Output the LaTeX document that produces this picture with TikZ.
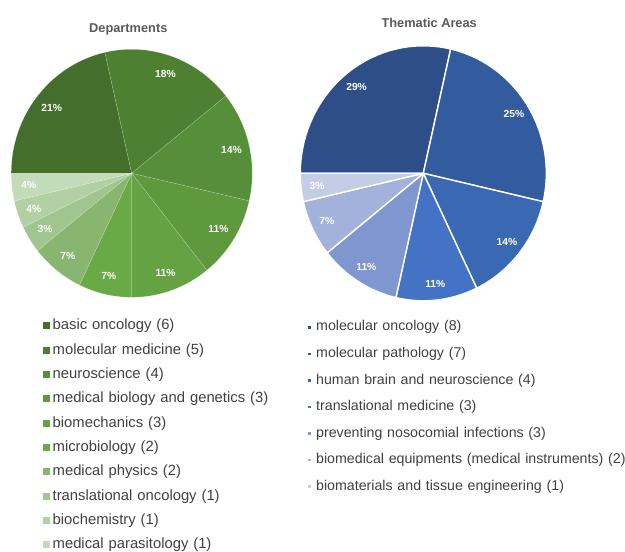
\documentclass[tikz,border=0pt]{standalone}
\usepackage{fontspec}
\setmainfont{Liberation Sans}
\usepackage{xcolor}
\usetikzlibrary{positioning}

\definecolor{depA}{HTML}{436E2B}
\definecolor{depB}{HTML}{4E8032}
\definecolor{depC}{HTML}{578E39}
\definecolor{depD}{HTML}{5E993E}
\definecolor{depE}{HTML}{64A243}
\definecolor{depF}{HTML}{6AAA46}
\definecolor{depG}{HTML}{88B56F}
\definecolor{depH}{HTML}{A1C58F}
\definecolor{depI}{HTML}{B3D0A4}
\definecolor{depJ}{HTML}{C4DBB9}
\definecolor{thmA}{HTML}{2E4E88}
\definecolor{thmB}{HTML}{335C9E}
\definecolor{thmC}{HTML}{3B68B3}
\definecolor{thmD}{HTML}{4472C4}
\definecolor{thmE}{HTML}{7F96CF}
\definecolor{thmF}{HTML}{A3B2DA}
\definecolor{thmG}{HTML}{C3CDE6}
\definecolor{titlegray}{HTML}{5A5A5A}
\definecolor{leggray}{HTML}{404040}

\begin{document}
\begin{tikzpicture}[x=1pt, y=1pt,
    dslice/.style={draw=white, draw opacity=0.3, line width=0.4pt},
    tslice/.style={draw=white, line width=1.4pt, line join=round},
    pct/.style={text=white, inner sep=0pt, font=\bfseries\fontsize{10.3}{12}\selectfont},
    charttitle/.style={text=titlegray, inner sep=0pt, anchor=base, font=\bfseries\fontsize{12.8}{15}\selectfont},
    dleg/.style={text width=240pt, align=left, inner sep=0pt, text=leggray, node distance=24.33pt, font=\fontsize{14.8}{17}\selectfont},
    tleg/.style={text width=340pt, align=left, inner sep=0pt, text=leggray, node distance=26.57pt, font=\fontsize{14.2}{17}\selectfont},
    dkey/.style={rectangle, minimum size=7pt, inner sep=0pt},
    tkey/.style={rectangle, minimum size=2.6pt, inner sep=0pt}]

    \useasboundingbox (0,0) rectangle (625,552);

    \node [charttitle] (deptitle) at (128.3,519.7) {Departments};
    \node [charttitle] (thmtitle) at (429.2,524.7) {Thematic Areas};

    \begin{scope}[shift={(131.7,378.7)}, xscale=120.5, yscale=124]
        \filldraw [dslice, fill=depA] (0,0) -- (180:1) arc[start angle=180, end angle=102.857, radius=1] -- cycle;
        \filldraw [dslice, fill=depB] (0,0) -- (102.857:1) arc[start angle=102.857, end angle=38.571, radius=1] -- cycle;
        \filldraw [dslice, fill=depC] (0,0) -- (38.571:1) arc[start angle=38.571, end angle=-12.857, radius=1] -- cycle;
        \filldraw [dslice, fill=depD] (0,0) -- (-12.857:1) arc[start angle=-12.857, end angle=-51.429, radius=1] -- cycle;
        \filldraw [dslice, fill=depE] (0,0) -- (-51.429:1) arc[start angle=-51.429, end angle=-90, radius=1] -- cycle;
        \filldraw [dslice, fill=depF] (0,0) -- (-90:1) arc[start angle=-90, end angle=-115.714, radius=1] -- cycle;
        \filldraw [dslice, fill=depG] (0,0) -- (-115.714:1) arc[start angle=-115.714, end angle=-141.429, radius=1] -- cycle;
        \filldraw [dslice, fill=depH] (0,0) -- (-141.429:1) arc[start angle=-141.429, end angle=-154.286, radius=1] -- cycle;
        \filldraw [dslice, fill=depI] (0,0) -- (-154.286:1) arc[start angle=-154.286, end angle=-167.143, radius=1] -- cycle;
        \filldraw [dslice, fill=depJ] (0,0) -- (-167.143:1) arc[start angle=-167.143, end angle=-180, radius=1] -- cycle;

        \node [pct] (dpA) at (141.43:0.85) {21\%};
        \node [pct] (dpB) at (70.71:0.85) {18\%};
        \node [pct] (dpC) at (12.86:0.85) {14\%};
        \node [pct] (dpD) at (-32.14:0.85) {11\%};
        \node [pct] (dpE) at (-70.71:0.85) {11\%};
        \node [pct] (dpF) at (-102.86:0.85) {7\%};
        \node [pct] (dpG) at (-128.57:0.85) {7\%};
        \node [pct] (dpH) at (-147.86:0.85) {3\%};
        \node [pct] (dpI) at (-160.71:0.86) {4\%};
        \node [pct] (dpJ) at (-173.57:0.86) {4\%};
    \end{scope}

    \begin{scope}[shift={(423.3,378.7)}, xscale=123, yscale=127.5]
        \filldraw [tslice, fill=thmA] (0,0) -- (180:1) arc[start angle=180, end angle=77.143, radius=1] -- cycle;
        \filldraw [tslice, fill=thmB] (0,0) -- (77.143:1) arc[start angle=77.143, end angle=-12.857, radius=1] -- cycle;
        \filldraw [tslice, fill=thmC] (0,0) -- (-12.857:1) arc[start angle=-12.857, end angle=-64.286, radius=1] -- cycle;
        \filldraw [tslice, fill=thmD] (0,0) -- (-64.286:1) arc[start angle=-64.286, end angle=-102.857, radius=1] -- cycle;
        \filldraw [tslice, fill=thmE] (0,0) -- (-102.857:1) arc[start angle=-102.857, end angle=-141.429, radius=1] -- cycle;
        \filldraw [tslice, fill=thmF] (0,0) -- (-141.429:1) arc[start angle=-141.429, end angle=-167.143, radius=1] -- cycle;
        \filldraw [tslice, fill=thmG] (0,0) -- (-167.143:1) arc[start angle=-167.143, end angle=-180, radius=1] -- cycle;

        \node [pct] (tpA) at (128.57:0.87) {29\%};
        \node [pct] (tpB) at (32.14:0.87) {25\%};
        \node [pct] (tpC) at (-38.57:0.87) {14\%};
        \node [pct] (tpD) at (-83.57:0.87) {11\%};
        \node [pct] (tpE) at (-122.14:0.87) {11\%};
        \node [pct] (tpF) at (-154.29:0.87) {7\%};
        \node [pct] (tpG) at (-173.57:0.87) {3\%};
    \end{scope}

    \node [dleg, anchor=west] (lbasic) at (52.5,226) {basic oncology (6)};
    \node [dleg, below of=lbasic] (lmolmed) {molecular medicine (5)};
    \node [dleg, below of=lmolmed] (lneuro) {neuroscience (4)};
    \node [dleg, below of=lneuro] (lmedbio) {medical biology and genetics (3)};
    \node [dleg, below of=lmedbio] (lbiomech) {biomechanics (3)};
    \node [dleg, below of=lbiomech] (lmicro) {microbiology (2)};
    \node [dleg, below of=lmicro] (lmedphys) {medical physics (2)};
    \node [dleg, below of=lmedphys] (ltransonc) {translational oncology (1)};
    \node [dleg, below of=ltransonc] (lbiochem) {biochemistry (1)};
    \node [dleg, below of=lbiochem] (lparasit) {medical parasitology (1)};

    \node [dkey, fill=depA, left=2.5pt of lbasic] (kbasic) {};
    \node [dkey, fill=depB, left=2.5pt of lmolmed] (kmolmed) {};
    \node [dkey, fill=depC, left=2.5pt of lneuro] (kneuro) {};
    \node [dkey, fill=depD, left=2.5pt of lmedbio] (kmedbio) {};
    \node [dkey, fill=depE, left=2.5pt of lbiomech] (kbiomech) {};
    \node [dkey, fill=depF, left=2.5pt of lmicro] (kmicro) {};
    \node [dkey, fill=depG, left=2.5pt of lmedphys] (kmedphys) {};
    \node [dkey, fill=depH, left=2.5pt of ltransonc] (ktransonc) {};
    \node [dkey, fill=depI, left=2.5pt of lbiochem] (kbiochem) {};
    \node [dkey, fill=depJ, left=2.5pt of lparasit] (kparasit) {};

    \node [tleg, anchor=west] (rmolonc) at (316,224.7) {molecular oncology (8)};
    \node [tleg, below of=rmolonc] (rmolpath) {molecular pathology (7)};
    \node [tleg, below of=rmolpath] (rbrain) {human brain and neuroscience (4)};
    \node [tleg, below of=rbrain] (rtransmed) {translational medicine (3)};
    \node [tleg, below of=rtransmed] (rnosoc) {preventing nosocomial infections (3)};
    \node [tleg, below of=rnosoc] (rbiomedeq) {biomedical equipments (medical instruments) (2)};
    \node [tleg, below of=rbiomedeq] (rbiomat) {biomaterials and tissue engineering (1)};

    \node [tkey, fill=thmA, left=5pt of rmolonc] (kmolonc) {};
    \node [tkey, fill=thmB, left=5pt of rmolpath] (kmolpath) {};
    \node [tkey, fill=thmC, left=5pt of rbrain] (kbrain) {};
    \node [tkey, fill=thmD, left=5pt of rtransmed] (ktransmed) {};
    \node [tkey, fill=thmE, left=5pt of rnosoc] (knosoc) {};
    \node [tkey, fill=thmF, left=5pt of rbiomedeq] (kbiomedeq) {};
    \node [tkey, fill=thmG, left=5pt of rbiomat] (kbiomat) {};
\end{tikzpicture}
\end{document}
